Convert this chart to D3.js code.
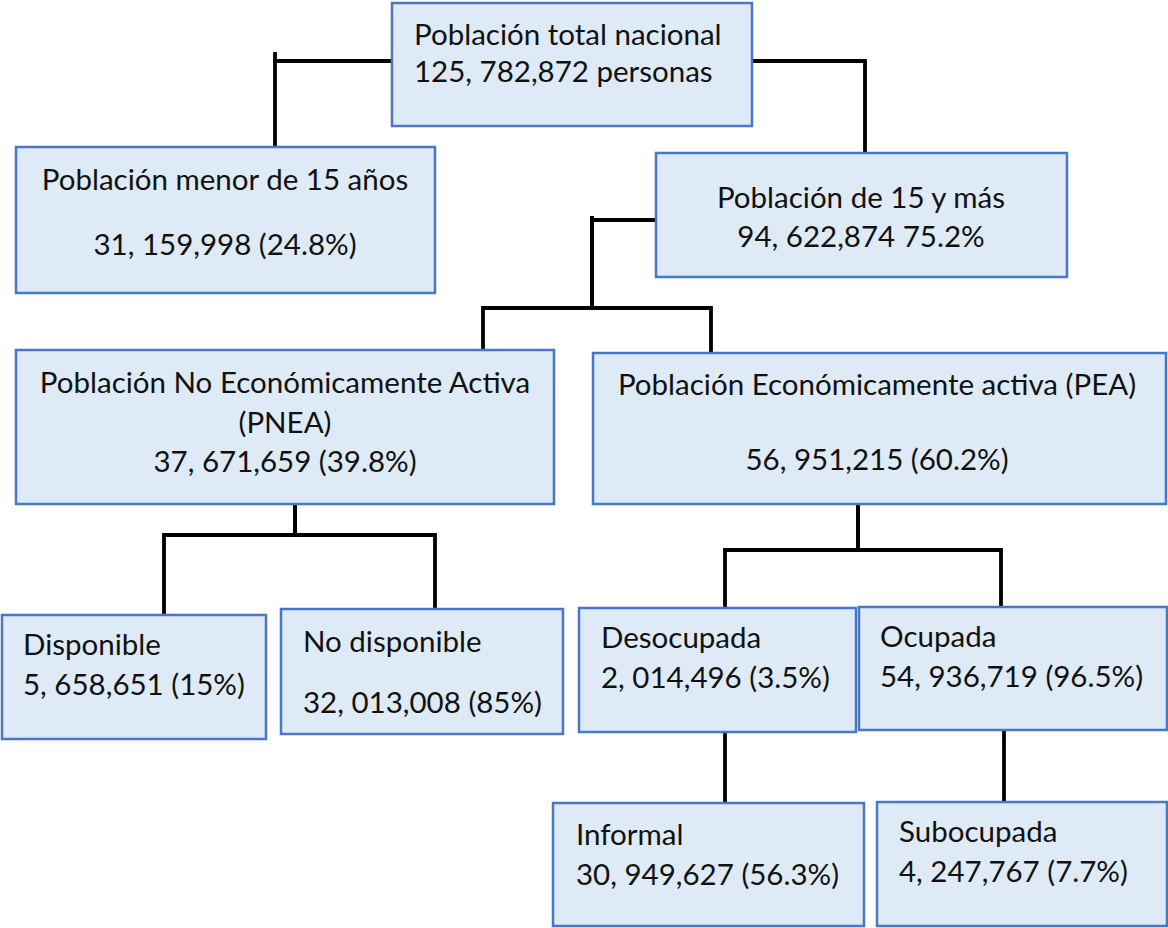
<!DOCTYPE html>
<html lang="es">
<head>
    <meta charset="utf-8">
    <title>Población por condición de actividad</title>
    <script src="https://cdn.jsdelivr.net/npm/d3@7"></script>
    <style type="text/css">
        body { margin: 0; background: #fff; }
        .box { fill: #deeaf6; stroke: #4a76c6; stroke-width: 2.5; }
        .link { fill: none; stroke: #000; stroke-width: 3.8; }
        .label { font-family: Lato, "Open Sans", sans-serif; font-size: 29.5px; fill: #111; }
    </style>
</head>
<body>
<div id="chart"></div>
<script>
// datos del esquema
const nodeIds = ["total", "menor15", "mas15", "pnea", "pea", "disp", "nodisp", "desoc", "ocup", "informal", "subocup"];
const nodeParents = ["", "total", "total", "mas15", "mas15", "pnea", "pnea", "pea", "pea", "desoc", "ocup"];
const nodeTitles = [
    ["Población total nacional"],
    ["Población menor de 15 años"],
    ["Población de 15 y más"],
    ["Población No Económicamente Activa", "(PNEA)"],
    ["Población Económicamente activa (PEA)"],
    ["Disponible"],
    ["No disponible"],
    ["Desocupada"],
    ["Ocupada"],
    ["Informal"],
    ["Subocupada"]
];
const nodeCounts = ["125, 782,872", "31, 159,998", "94, 622,874", "37, 671,659", "56, 951,215",
    "5, 658,651", "32, 013,008", "2, 014,496", "54, 936,719", "30, 949,627", "4, 247,767"];
const nodeShares = ["personas", "(24.8%)", "75.2%", "(39.8%)", "(60.2%)",
    "(15%)", "(85%)", "(3.5%)", "(96.5%)", "(56.3%)", "(7.7%)"];

// posicion de cada caja (a mano, como en el original)
const layout = {
    total:    {x: 392, y: 3,   w: 360, h: 123, anchor: "start",  tx: 414, lines: [45, 82]},
    menor15:  {x: 16,  y: 147, w: 419, h: 146, anchor: "middle", tx: 225, lines: [190, 255]},
    mas15:    {x: 656, y: 153, w: 411, h: 124, anchor: "middle", tx: 861, lines: [208, 247]},
    pnea:     {x: 16,  y: 350, w: 538, h: 154, anchor: "middle", tx: 285, lines: [393, 433, 472]},
    pea:      {x: 593, y: 353, w: 573, h: 151, anchor: "middle", tx: 877, lines: [395, 470]},
    disp:     {x: 2,   y: 615, w: 264, h: 124, anchor: "start",  tx: 23,  lines: [655, 695]},
    nodisp:   {x: 281, y: 609, w: 282, h: 125, anchor: "start",  tx: 303, lines: [652, 713]},
    desoc:    {x: 579, y: 608, w: 277, h: 124, anchor: "start",  tx: 601, lines: [648, 688]},
    ocup:     {x: 859, y: 607, w: 308, h: 123, anchor: "start",  tx: 880, lines: [647, 687]},
    informal: {x: 553, y: 803, w: 311, h: 123, anchor: "start",  tx: 576, lines: [845, 885]},
    subocup:  {x: 877, y: 802, w: 290, h: 124, anchor: "start",  tx: 899, lines: [842, 882]}
};

// conectores: side = sale del costado, bus = sale de abajo; tick = cuanto sobresale arriba
const connectors = {
    total: {kind: "side", y: 61, drops: {menor15: 275, mas15: 865}, tick: {menor15: 9, mas15: 0}},
    mas15: {kind: "sideBus", y: 220, stemX: 592, busY: 308, drops: {pnea: 483, pea: 711}, tick: 4},
    pnea:  {kind: "bus", stemX: 295, busY: 535, drops: {disp: 164, nodisp: 435}},
    pea:   {kind: "bus", stemX: 858, busY: 550, drops: {desoc: 725, ocup: 1001}},
    desoc: {kind: "bus", stemX: 725, busY: 770, drops: {informal: 725}},
    ocup:  {kind: "bus", stemX: 1004, busY: 770, drops: {subocup: 1004}}
};

const width = 1168, height = 928;

const table = nodeIds.map((id, i) => ({
    id: id,
    parent: nodeParents[i] || null,
    lines: nodeTitles[i].concat([nodeCounts[i] + " " + nodeShares[i]])
}));
const root = d3.stratify().id(d => d.id).parentId(d => d.parent)(table);

const svg = d3.select("#chart").append("svg")
    .attr("width", width)
    .attr("height", height);

function linkPath(link) {
    const from = link.source.id, to = link.target.id;
    const c = connectors[from], p = layout[from], t = layout[to];
    const dx = c.drops[to];
    const path = d3.path();
    if (c.kind === "side") {
        const ex = dx < p.x ? p.x : p.x + p.w;
        path.moveTo(ex, c.y);
        path.lineTo(dx, c.y);
        path.lineTo(dx, t.y);
        if (c.tick && c.tick[to]) {
            path.moveTo(dx, c.y);
            path.lineTo(dx, c.y - c.tick[to]);
        }
    } else if (c.kind === "sideBus") {
        path.moveTo(p.x, c.y);
        path.lineTo(c.stemX, c.y);
        path.lineTo(c.stemX, c.busY);
        path.lineTo(dx, c.busY);
        path.lineTo(dx, t.y);
        if (c.tick) {
            path.moveTo(c.stemX, c.y);
            path.lineTo(c.stemX, c.y - c.tick);
        }
    } else {
        path.moveTo(c.stemX, p.y + p.h);
        path.lineTo(c.stemX, c.busY);
        path.lineTo(dx, c.busY);
        path.lineTo(dx, t.y);
    }
    return path.toString();
}

svg.selectAll(".link")
    .data(root.links())
    .enter().append("path")
    .attr("class", "link")
    .attr("d", linkPath);

const node = svg.selectAll(".node")
    .data(root.descendants())
    .enter().append("g")
    .attr("class", "node");

node.append("rect")
    .attr("class", "box")
    .attr("x", d => layout[d.id].x)
    .attr("y", d => layout[d.id].y)
    .attr("width", d => layout[d.id].w)
    .attr("height", d => layout[d.id].h);

node.each(function(d) {
    const L = layout[d.id];
    d3.select(this).selectAll("text")
        .data(d.data.lines)
        .enter().append("text")
        .attr("class", "label")
        .attr("x", L.tx)
        .attr("y", (s, i) => L.lines[i])
        .attr("text-anchor", L.anchor)
        .text(s => s);
});
</script>
</body>
</html>
